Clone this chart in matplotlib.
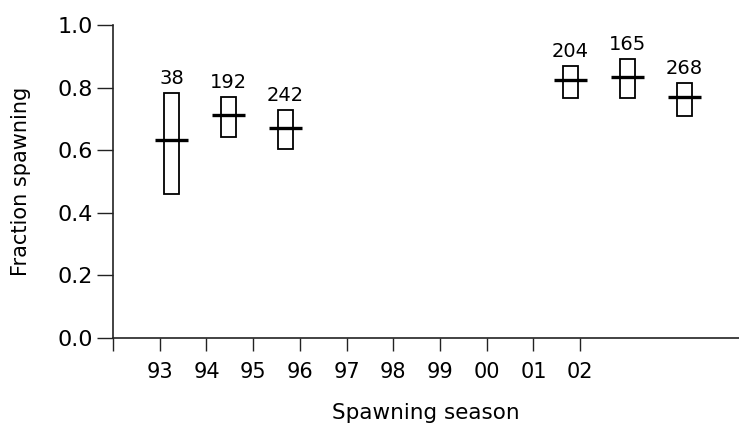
import matplotlib
matplotlib.use("Agg")
import matplotlib.pyplot as plt
from matplotlib.patches import Rectangle

plt.rcParams['font.family'] = ['DejaVu Sans']

# season tick axis
tick_years = [92, 93, 94, 95, 96, 97, 98, 99, 100, 101, 102]
tick_labels = ['', '93', '94', '95', '96', '97', '98', '99', '00', '01', '02']

# box data (index = season position 0 -> 93)
season_idx = [0, 1, 2, 7, 8, 9]
box_low = [0.46, 0.643, 0.604, 0.766, 0.768, 0.710]
box_high = [0.783, 0.771, 0.728, 0.870, 0.892, 0.816]
means = [0.632, 0.712, 0.671, 0.824, 0.835, 0.771]
counts = ['38', '192', '242', '204', '165', '268']

fig = plt.figure(figsize=(7.39, 4.25), dpi=100)
ax = fig.add_axes([0.153, 0.2047, 0.847, 0.7366])
ax.set_xlim(92, 105.4)
ax.set_ylim(0, 1.0)
ax.set_xticks(tick_years)
ax.set_xticklabels(tick_labels, fontsize=15)
ax.set_yticks([0, 0.2, 0.4, 0.6, 0.8, 1.0])
ax.set_yticklabels(['0.0', '0.2', '0.4', '0.6', '0.8', '1.0'], fontsize=16)
ax.tick_params(axis='x', length=9.5, width=1, pad=8, color='#222222')
ax.tick_params(axis='y', length=11.5, width=1, pad=3, color='#222222')
for s in ['top', 'right']:
    ax.spines[s].set_visible(False)
for s in ['left', 'bottom']:
    ax.spines[s].set_linewidth(1.2)
    ax.spines[s].set_color('#222222')
ax.set_xlabel('Spawning season', fontsize=15.5, labelpad=15)
ax.set_ylabel('Fraction spawning', fontsize=15, labelpad=19)

# overlay with its own category scale for the boxes
bx = ax.twiny()
bx.set_xlim(-1.026, 9.956)
bx.set_ylim(0, 1.0)
bx.axis('off')
bw = 0.26
for i, lo, hi, m, n in zip(season_idx, box_low, box_high, means, counts):
    bx.add_patch(Rectangle((i - bw / 2, lo), bw, hi - lo, fill=False,
                           edgecolor='black', linewidth=1.3))
    bx.plot([i - 0.29, i + 0.29], [m, m], color='black', linewidth=2.4,
            solid_capstyle='butt')
    bx.text(i, hi + 0.015, n, ha='center', va='bottom', fontsize=14)

fig.savefig('out.png', dpi=100)
